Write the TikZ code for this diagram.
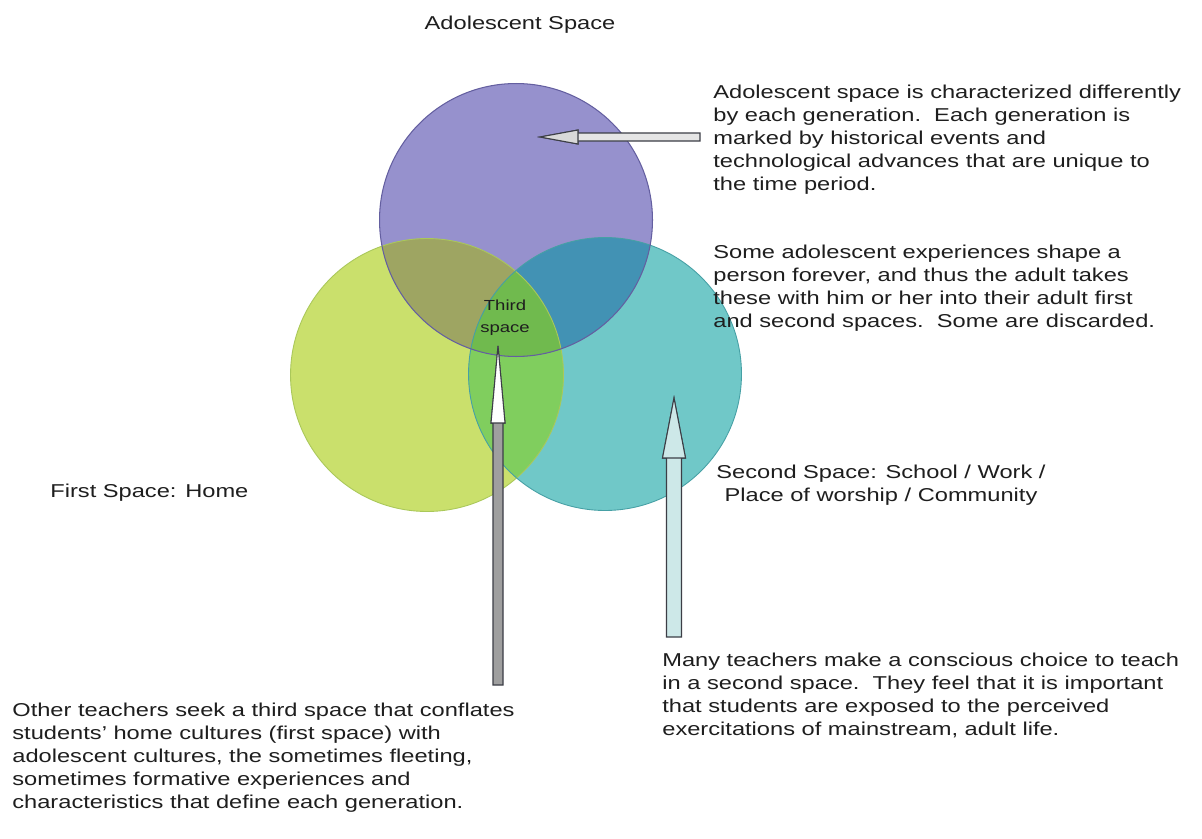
\documentclass[tikz,border=0pt]{standalone}
\usepackage{fontspec}
\setmainfont{Liberation Sans}[FakeStretch=1.27]
\usetikzlibrary{calc}

\definecolor{adolfill}{RGB}{150,145,205}
\definecolor{homefill}{RGB}{202,224,108}
\definecolor{schoolfill}{RGB}{112,200,200}
\definecolor{adolhome}{RGB}{158,165,98}
\definecolor{adolschool}{RGB}{66,146,180}
\definecolor{homeschool}{RGB}{128,206,94}
\definecolor{thirdfill}{RGB}{112,186,78}
\definecolor{adolline}{RGB}{100,95,160}
\definecolor{homeline}{RGB}{170,200,90}
\definecolor{schoolline}{RGB}{70,160,165}
\definecolor{arrowline}{RGB}{60,62,70}
\definecolor{textgray}{RGB}{30,30,30}

% block arrow: tail, tip, half shaft, half head, head length, body style, head style
\newcommand{\blockarrow}[7]{%
  \coordinate (#2base) at ($(#2)!#5!(#1)$);
  \path[#6] ($(#1)!#3!90:(#2)$) -- ($(#2base)!#3!-90:(#1)$) -- ($(#2base)!#4!-90:(#1)$) -- (#2)
    -- ($(#2base)!#4!90:(#1)$) -- ($(#2base)!#3!90:(#1)$) -- ($(#1)!#3!-90:(#2)$) -- cycle;
  \path[#7] ($(#2base)!#4!-90:(#1)$) -- (#2) -- ($(#2base)!#4!90:(#1)$) -- cycle;
}

\tikzset{
  note/.style={anchor=north west, inner sep=0pt, align=left, text=textgray,
    font=\fontsize{10.6}{13.1}\selectfont},
  label/.style={inner sep=0pt, text=textgray, font=\fontsize{10.6}{13.1}\selectfont},
}

\begin{document}
\begin{tikzpicture}[x=0.02cm, y=-0.02cm]
  \fill[white] (0,0) rectangle (1202,838);
  \useasboundingbox (0,0) rectangle (1202,838);
  \def\rad{2.73cm}

  \coordinate (adol) at (516,220);
  \coordinate (home) at (427,375);
  \coordinate (school) at (605,374);

  % the three spaces
  \fill[homefill] (home) circle[radius=\rad];
  \fill[schoolfill] (school) circle[radius=\rad];
  \fill[adolfill] (adol) circle[radius=\rad];
  \begin{scope}
    \clip (home) circle[radius=\rad];
    \fill[homeschool] (school) circle[radius=\rad];
  \end{scope}
  \begin{scope}
    \clip (adol) circle[radius=\rad];
    \fill[adolhome] (home) circle[radius=\rad];
    \fill[adolschool] (school) circle[radius=\rad];
    \clip (home) circle[radius=\rad];
    \fill[thirdfill] (school) circle[radius=\rad];
  \end{scope}
  \draw[homeline, line width=0.5pt] (home) circle[radius=\rad];
  \draw[schoolline, line width=0.5pt] (school) circle[radius=\rad];
  \draw[adolline, line width=0.6pt] (adol) circle[radius=\rad];

  \node[label, anchor=base] (adoltitle) at (520,30) {Adolescent Space};
  \node[label, anchor=base west] (firstsp) at (50,497) {First Space: Home};
  \node[label, anchor=north, align=center] (secondsp) at (881,465)
    {Second Space: School / Work /\\ Place of worship / Community};
  \node[inner sep=0pt, anchor=north, align=center, text=textgray,
    font=\fontsize{8.3}{12}\selectfont] (thirdsp) at (505,300) {Third\\space};

  \node[note] (adolnote) at (713,84.5)
    {Adolescent space is characterized differently\\
     by each generation.\ \ Each generation is\\
     marked by historical events and\\
     technological advances that are unique to\\
     the time period.};
  \node[note] (keepnote) at (713,245)
    {Some adolescent experiences shape a\\
     person forever, and thus the adult takes\\
     these with him or her into their adult first\\
     and second spaces.\ \ Some are discarded.};
  \node[note] (secondnote) at (662,653)
    {Many teachers make a conscious choice to teach\\
     in a second space.\ \ They feel that it is important\\
     that students are exposed to the perceived\\
     exercitations of mainstream, adult life.};
  \node[note] (thirdnote) at (12,703)
    {Other teachers seek a third space that conflates\\
     students' home cultures (first space) with\\
     adolescent cultures, the sometimes fleeting,\\
     sometimes formative experiences and\\
     characteristics that define each generation.};

  % arrows
  \coordinate (adoltail) at (700,137);
  \coordinate (adoltip) at (540,137);
  \blockarrow{adoltail}{adoltip}{0.08cm}{0.14cm}{0.76cm}
    {fill=white!80!gray, draw=arrowline, line width=0.6pt}
    {fill=white!70!gray, draw=arrowline, line width=0.6pt}
  \coordinate (thirdtail) at (498,685);
  \coordinate (thirdtip) at (498,346);
  \blockarrow{thirdtail}{thirdtip}{0.1cm}{0.14cm}{1.54cm}
    {fill=gray!75, draw=arrowline, line width=0.6pt}
    {fill=white, draw=arrowline, line width=0.6pt}
  \coordinate (secondtail) at (674,637);
  \coordinate (secondtip) at (674,398);
  \blockarrow{secondtail}{secondtip}{0.15cm}{0.23cm}{1.2cm}
    {fill={rgb,255:red,205;green,232;blue,232}, draw=arrowline, line width=0.6pt}
    {fill={rgb,255:red,205;green,232;blue,232}, draw=arrowline, line width=0.6pt}
\end{tikzpicture}
\end{document}
